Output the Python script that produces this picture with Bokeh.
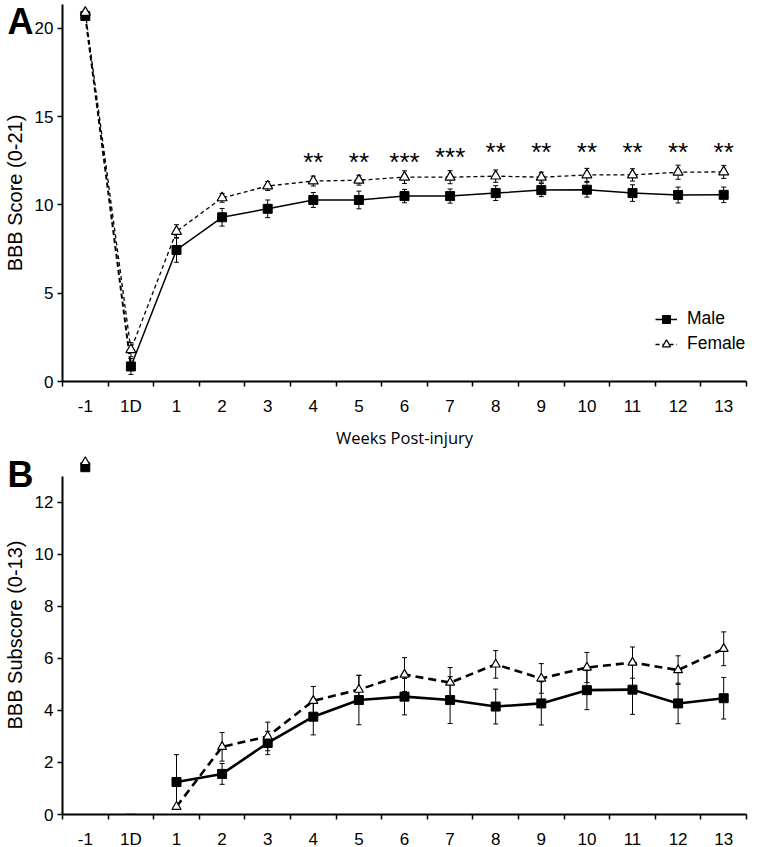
from bokeh.plotting import figure
from bokeh.models import (ColumnDataSource, Whisker, TeeHead, FixedTicker, Legend,
                          LegendItem, Range1d)
from bokeh.layouts import column
from bokeh.embed import file_html
from bokeh.resources import INLINE
from bokeh.core.properties import value

# ---------------- data ----------------
categories = ["-1", "1D", "1", "2", "3", "4", "5", "6", "7", "8", "9", "10", "11", "12", "13"]

# Panel A: BBB score (0-21)
male_a = [20.7, 0.85, 7.45, 9.3, 9.78, 10.28, 10.28, 10.5, 10.5, 10.67, 10.84, 10.86, 10.67, 10.56, 10.57]
male_a_err = [0.12, 0.45, 0.7, 0.5, 0.5, 0.42, 0.5, 0.38, 0.4, 0.42, 0.37, 0.42, 0.47, 0.45, 0.44]
female_a = [20.9, 1.8, 8.5, 10.4, 11.07, 11.35, 11.4, 11.57, 11.57, 11.63, 11.57, 11.7, 11.7, 11.85, 11.87]
female_a_err = [0.1, 0.4, 0.38, 0.25, 0.25, 0.28, 0.28, 0.36, 0.37, 0.35, 0.28, 0.37, 0.35, 0.4, 0.37]

sig_weeks = ["4", "5", "6", "7", "8", "9", "10", "11", "12", "13"]
sig_marks = ["**", "**", "***", "***", "**", "**", "**", "**", "**", "**"]
sig_heights = [12.8, 12.8, 12.8, 13.1, 13.4, 13.4, 13.4, 13.4, 13.4, 13.4]

# Panel B: BBB subscore (0-13)
male_b = [13.35, 0.0, 1.25, 1.56, 2.75, 3.76, 4.4, 4.53, 4.4, 4.15, 4.27, 4.78, 4.8, 4.27, 4.47]
male_b_err = [0.0, 0.0, 1.05, 0.4, 0.45, 0.7, 0.95, 0.7, 0.9, 0.67, 0.83, 0.75, 0.95, 0.78, 0.8]
female_b = [13.55, 0.0, 0.3, 2.6, 3.0, 4.37, 4.8, 5.38, 5.07, 5.77, 5.23, 5.65, 5.84, 5.55, 6.37]
female_b_err = [0.0, 0.0, 0.0, 0.55, 0.55, 0.55, 0.55, 0.65, 0.58, 0.53, 0.57, 0.58, 0.6, 0.55, 0.65]

ticks_a = [0, 5, 10, 15, 20]
ticks_b = [0, 2, 4, 6, 8, 10, 12]

# ---------------- helpers ----------------
xs = list(range(len(categories)))
TICK_FONT = "Liberation Sans"


def style_axes(p, yticks, ylabel, xlabel=None, ybounds=None):
    p.grid.visible = False
    p.outline_line_color = None
    xa = p.xaxis[0]
    xa.ticker = FixedTicker(ticks=xs, minor_ticks=[i - 0.5 for i in range(len(categories) + 1)])
    xa.major_label_overrides = {i: c for i, c in enumerate(categories)}
    xa.major_tick_out = 0
    xa.major_tick_in = 0
    xa.minor_tick_out = 5
    xa.minor_tick_in = 0
    xa.minor_tick_line_color = "black"
    xa.minor_tick_line_width = 1.5
    xa.axis_line_width = 2
    xa.axis_line_color = "black"
    xa.major_label_standoff = 10
    xa.major_label_text_font = TICK_FONT
    xa.major_label_text_font_size = "17px"
    xa.major_label_text_color = "black"
    if xlabel:
        xa.axis_label = xlabel
        xa.axis_label_text_font = "Open Sans"
        xa.axis_label_text_font_size = "16.5px"
        xa.axis_label_text_font_style = "normal"
        xa.axis_label_text_color = "black"
        xa.axis_label_standoff = 7
    ya = p.yaxis[0]
    ya.ticker = FixedTicker(ticks=yticks)
    ya.major_tick_out = 5
    ya.major_tick_in = 0
    ya.minor_tick_out = 0
    ya.minor_tick_in = 0
    ya.major_tick_line_width = 1.5
    ya.major_tick_line_color = "black"
    ya.axis_line_width = 2
    ya.axis_line_color = "black"
    ya.major_label_standoff = 4
    ya.major_label_text_font = TICK_FONT
    ya.major_label_text_font_size = "17px"
    ya.major_label_text_color = "black"
    ya.axis_label = ylabel
    ya.axis_label_text_font = TICK_FONT
    ya.axis_label_text_font_size = "20px"
    ya.axis_label_text_font_style = "normal"
    ya.axis_label_text_color = "black"
    ya.axis_label_standoff = 6
    if ybounds is not None:
        ya.bounds = ybounds


def whiskers(p, y, err, idx):
    src = ColumnDataSource(dict(
        x=[xs[i] for i in idx],
        upper=[y[i] + err[i] for i in idx],
        lower=[y[i] - err[i] for i in idx],
    ))
    w = Whisker(base="x", upper="upper", lower="lower", source=src, dimension="height",
                line_color="black", line_width=1,
                upper_head=TeeHead(size=5, line_color="black", line_width=1),
                lower_head=TeeHead(size=5, line_color="black", line_width=1))
    p.add_layout(w)


def panel_letter(p, letter, y_off):
    # drawn at the top-left corner of the frame, shifted into the left border (unclipped level)
    r = p.text(x=[p.x_range.start], y=[p.y_range.end], text=[letter],
               text_font=value(TICK_FONT), text_font_size="36px", text_font_style="bold",
               text_color="black", text_align="left", text_baseline="alphabetic",
               x_offset=-55, y_offset=y_off)
    r.level = "overlay"


# ---------------- Panel A ----------------
pA = figure(frame_width=684, frame_height=377,
            x_range=Range1d(-0.5, 14.5), y_range=Range1d(0, 21.35),
            output_backend="svg", toolbar_location=None,
            min_border_left=56, min_border_right=2, min_border_top=4, min_border_bottom=0)
style_axes(pA, ticks_a, "BBB Score (0-21)", "Weeks Post-injury")

all_idx = list(range(len(categories)))
whiskers(pA, male_a, male_a_err, all_idx)
whiskers(pA, female_a, female_a_err, all_idx)

# injury segment (-1 -> 1D) drawn dashed for both groups
pA.line(xs[:2], male_a[:2], line_color="black", line_width=2, line_dash="5 3")
fem_line_a = pA.line(xs, female_a, line_color="black", line_width=1.3, line_dash="4 3")
male_line_a = pA.line(xs[1:], male_a[1:], line_color="black", line_width=1.5)
male_sc_a = pA.scatter(xs, male_a, marker="square", size=9, fill_color="black", line_color="black")
fem_sc_a = pA.scatter(xs, female_a, marker="triangle", size=10, fill_color="white",
                      line_color="black", line_width=1.2)

sig_x = [categories.index(w) for w in sig_weeks]
pA.text(x=sig_x, y=sig_heights, text=sig_marks, text_font=value(TICK_FONT),
        text_font_size="26px", text_align="center", text_baseline="middle",
        text_color="black", y_offset=7)

legend = Legend(items=[LegendItem(label="Male", renderers=[male_line_a, male_sc_a]),
                       LegendItem(label="Female", renderers=[fem_line_a, fem_sc_a])],
                location=(593, 27), border_line_color=None, background_fill_alpha=0,
                padding=0, margin=0, spacing=4, glyph_width=22, glyph_height=20,
                label_standoff=10, label_text_font=TICK_FONT, label_text_font_size="17.5px",
                label_text_color="black")
pA.add_layout(legend)
panel_letter(pA, "A", 17)

# ---------------- Panel B ----------------
pB = figure(frame_width=684, frame_height=359,
            x_range=Range1d(-0.5, 14.5), y_range=Range1d(0, 13.8),
            output_backend="svg", toolbar_location=None,
            min_border_left=56, min_border_right=2, min_border_top=4, min_border_bottom=0)
style_axes(pB, ticks_b, "BBB Subscore (0-13)", None, ybounds=(0, 13))

wk_idx = list(range(2, len(categories)))
whiskers(pB, male_b, male_b_err, wk_idx)
whiskers(pB, female_b, female_b_err, wk_idx)

pB.line(xs[2:], female_b[2:], line_color="black", line_width=2.6, line_dash="8 5")
pB.line(xs[2:], male_b[2:], line_color="black", line_width=2.6)
pB.scatter(xs[2:] + [xs[0]], male_b[2:] + [male_b[0]], marker="square", size=9,
           fill_color="black", line_color="black")
pB.scatter(xs[2:] + [xs[0]], female_b[2:] + [female_b[0]], marker="triangle", size=9,
           fill_color="white", line_color="black", line_width=1.2)
pB.scatter([xs[1]], [male_b[1]], marker="dash", size=10, line_color="black", line_width=1.5)
panel_letter(pB, "B", 19)

layout = column(pA, pB, spacing=0)
open("out.html", "w").write(file_html(layout, INLINE))
